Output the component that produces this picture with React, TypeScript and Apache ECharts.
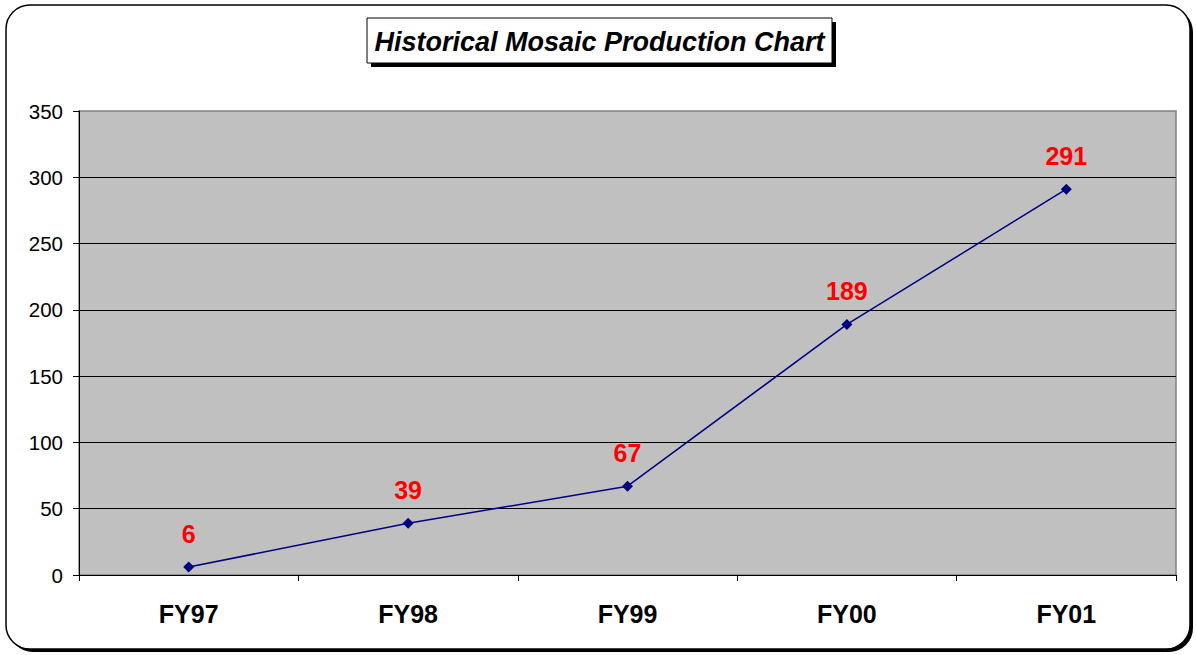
import React, { useEffect, useRef } from "react";
import * as echarts from "echarts";

const categories = ["FY97", "FY98", "FY99", "FY00", "FY01"];
const production = [6, 39, 67, 189, 291];
const yTicks = { min: 0, max: 350, interval: 50 };
const titleText = "Historical Mosaic Production Chart";

const FONT = "'Liberation Sans', Arial, sans-serif";

export default function App() {
  const ref = useRef<HTMLDivElement>(null);

  useEffect(() => {
    if (!ref.current) return;
    const chart = echarts.init(ref.current, undefined, { renderer: "svg" });
    chart.setOption({
      animation: false,
      backgroundColor: "#ffffff",
      textStyle: { fontFamily: FONT },
      graphic: [
        {
          type: "rect",
          z: -10,
          silent: true,
          shape: { x: 9, y: 8, width: 1184, height: 644, r: 24 },
          style: { fill: "#000000" },
        },
        {
          type: "rect",
          z: -9,
          silent: true,
          shape: { x: 6, y: 5, width: 1184, height: 644, r: 24 },
          style: { fill: "#ffffff", stroke: "#000000", lineWidth: 1.5 },
        },
        {
          type: "rect",
          z: 10,
          silent: true,
          shape: { x: 371, y: 22, width: 465, height: 45 },
          style: { fill: "#000000" },
        },
        {
          type: "rect",
          z: 11,
          silent: true,
          shape: { x: 367, y: 18, width: 465, height: 45 },
          style: { fill: "#ffffff", stroke: "#000000", lineWidth: 1 },
        },
        {
          type: "text",
          z: 12,
          silent: true,
          x: 599.5,
          y: 42,
          style: {
            text: titleText,
            fill: "#000000",
            font: `italic bold 27px ${FONT}`,
            align: "center",
            verticalAlign: "middle",
          },
        },
      ],
      grid: {
        left: 79,
        right: 20,
        top: 111,
        bottom: 80,
        show: true,
        backgroundColor: "#C0C0C0",
        borderColor: "#808080",
        borderWidth: 1.5,
      },
      xAxis: {
        type: "category",
        data: categories,
        boundaryGap: true,
        axisLine: { show: true, lineStyle: { color: "#000000", width: 1 } },
        axisTick: { show: true, length: 6, lineStyle: { color: "#000000" } },
        axisLabel: {
          color: "#000000",
          fontFamily: FONT,
          fontWeight: "bold",
          fontSize: 25,
          margin: 26,
        },
        splitLine: { show: false },
      },
      yAxis: {
        type: "value",
        min: yTicks.min,
        max: yTicks.max,
        interval: yTicks.interval,
        axisLine: { show: true, lineStyle: { color: "#000000", width: 1 } },
        axisTick: { show: true, length: 6, lineStyle: { color: "#000000" } },
        axisLabel: {
          color: "#000000",
          fontFamily: FONT,
          fontSize: 20.5,
          margin: 16,
        },
        splitLine: {
          show: true,
          showMaxLine: false,
          lineStyle: { color: "#000000", width: 1 },
        },
      },
      series: [
        {
          type: "line",
          data: production,
          symbol: "diamond",
          symbolSize: 11,
          itemStyle: { color: "#000080" },
          lineStyle: { color: "#000080", width: 1.5 },
          label: {
            show: true,
            position: "top",
            distance: 15,
            color: "#FF0000",
            fontFamily: FONT,
            fontWeight: "bold",
            fontSize: 25,
          },
        },
      ],
    });
    return () => chart.dispose();
  }, []);

  return (
    <div
      ref={ref}
      style={{ position: "absolute", left: 0, top: 0, width: 1196, height: 655 }}
    />
  );
}
